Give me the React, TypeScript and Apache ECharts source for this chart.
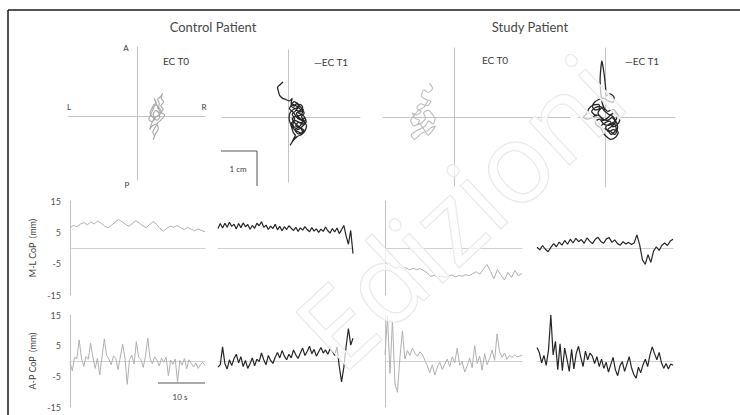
import React, { useEffect, useRef } from "react";
import * as echarts from "echarts";

// ---- Stabilograms: [M-L (mm), A-P (mm)] ----
const controlT0Path: number[][] = [
  [5.8, 2.1], [6.4, 3.5], [5.9, 4.8], [6.8, 5.6], [7.3, 6.5], [6.9, 5.1], [7.6, 4.0], [6.8, 2.9], [7.5, 1.8], [6.3, 0.9],
  [5.4, 1.6], [4.6, 0.4], [5.2, -0.8], [4.1, -1.6], [3.4, -0.9], [4.0, 0.6], [4.8, 2.4], [5.5, 3.9], [4.9, 5.0], [5.7, 3.1],
  [6.6, 1.2], [7.9, 0.3], [7.1, -0.9], [6.0, -1.9], [5.2, -3.2], [4.5, -4.6], [5.0, -5.8], [4.6, -6.8], [5.3, -5.1], [6.1, -3.6],
  [5.6, -2.3], [4.4, -2.8], [3.6, -3.9], [4.2, -2.1], [5.1, -0.4], [6.2, 0.2], [7.0, 1.1], [6.1, 2.6], [5.0, 3.4], [4.3, 2.2],
  [3.7, 1.0], [4.5, -0.3], [5.8, -1.2], [6.5, -0.2], [5.9, 1.5],
];
const controlT1Path: number[][] = [
  [-1.4, 10.0], [-2.2, 9.3], [-3.0, 8.4], [-2.7, 7.2], [-2.4, 6.2], [-1.6, 5.4], [-0.6, 5.0], [0.4, 4.6], [1.2, 5.3], [0.9, 3.8],
  [1.8, 3.1], [2.6, 4.0], [3.2, 3.0], [2.4, 2.1], [3.6, 1.5], [4.4, 2.3], [3.8, 0.6], [2.7, 0.2], [3.5, -0.8], [4.8, -0.3],
  [5.2, -1.4], [4.1, -2.0], [3.0, -1.5], [2.2, -2.6], [3.4, -3.1], [4.5, -3.8], [3.7, -4.6], [2.5, -4.0], [1.6, -3.3], [1.0, -1.8],
  [1.9, -0.6], [1.2, 0.8], [2.0, 1.6], [2.9, 2.7], [1.6, 2.2], [0.6, 1.2], [0.3, -0.4], [0.9, -2.5], [1.5, -4.4], [2.1, -5.3],
  [1.6, -6.2], [1.1, -7.3], [0.6, -8.1], [1.4, -6.8], [2.6, -5.6], [3.9, -5.0], [4.7, -4.2], [5.3, -2.6], [4.6, -1.2], [3.9, 0.1],
  [4.6, 1.1], [3.8, 2.6], [2.8, 3.6], [1.8, 4.4], [0.8, 3.2], [2.2, 2.4], [3.4, 3.6], [4.2, 2.8], [3.0, 1.2], [4.4, 0.4],
  [5.0, -0.8], [3.6, -1.6], [2.0, -1.0], [1.4, -2.2], [2.8, -3.6], [4.0, -2.8], [4.8, -1.8], [3.2, -0.2], [2.4, 1.0], [3.6, 2.0],
  [2.6, 3.0], [1.4, 3.6], [0.4, 2.4], [1.6, 1.2], [2.8, -0.4], [4.2, -1.2], [3.4, -2.6], [2.0, -3.8], [3.0, -4.8], [4.2, -4.6],
  [3.6, -3.2], [2.2, -2.0], [1.2, -0.6], [2.4, 0.4],
];
const studyT0Path: number[][] = [
  [-7.0, 9.6], [-6.1, 8.2], [-7.4, 7.0], [-8.6, 7.8], [-9.3, 6.1], [-8.0, 5.0], [-6.6, 4.4], [-7.8, 3.2], [-9.5, 3.8], [-10.6, 2.6],
  [-9.4, 1.5], [-10.8, 0.6], [-11.9, 1.2], [-11.1, -0.4], [-9.9, -0.9], [-10.4, -2.2], [-9.0, -1.5], [-8.1, -0.3], [-8.7, 1.2], [-7.3, 1.9],
  [-6.2, 0.8], [-5.4, -0.6], [-6.0, -2.0], [-7.2, -1.1], [-8.3, -2.6], [-9.6, -3.4], [-11.0, -4.1], [-12.2, -5.2], [-11.3, -6.4], [-10.2, -5.5],
  [-9.2, -4.6], [-7.6, -3.9], [-6.5, -3.0], [-5.3, -2.6], [-6.3, -4.1], [-7.4, -5.2], [-8.8, -3.2], [-10.0, -1.8], [-11.4, -2.6], [-12.4, -1.0],
  [-11.6, 0.2], [-10.2, 1.9], [-8.6, 2.8], [-7.5, 4.6],
];
const studyT1Path: number[][] = [
  [0.0, 2.0], [-0.8, 4.0], [-1.2, 7.0], [-1.4, 10.5], [-1.2, 13.8], [-0.9, 16.0], [-0.5, 14.0], [-0.1, 11.0], [0.2, 8.0], [0.3, 6.0],
  [1.4, 6.6], [2.6, 5.6], [2.2, 4.2], [0.9, 4.6], [-0.4, 5.4], [-1.8, 5.0], [-3.0, 4.2], [-3.6, 3.0], [-2.8, 2.0], [-1.6, 2.4],
  [-1.8, 3.6], [-3.4, 3.4], [-4.6, 2.4], [-5.2, 1.0], [-6.2, 0.0], [-5.0, -0.6], [-3.6, -0.2], [-2.6, 0.6], [-1.4, 0.2], [-0.6, -1.0],
  [0.6, -0.4], [1.6, 0.6], [2.8, 1.2], [3.4, 0.0], [2.6, -1.4], [1.2, -2.0], [0.2, -3.0], [1.0, -4.2], [2.4, -3.6], [3.8, -4.4],
  [3.0, -5.8], [1.6, -6.4], [0.4, -5.6], [-0.6, -4.4], [-1.2, -2.8], [-0.2, -1.8], [1.4, -1.2], [2.2, -2.8], [3.4, -2.2], [4.2, -1.0],
  [3.6, 0.8], [2.2, 2.2], [0.8, 1.6], [-0.6, 2.8], [-2.0, 1.2], [-1.0, -0.2], [0.6, -1.0], [2.0, -0.2], [3.0, -1.6], [2.0, -2.6],
  [0.8, -3.6], [1.8, -5.0], [3.2, -3.4], [2.6, -1.8], [1.0, -2.4], [-0.4, -2.0], [-1.6, -0.6], [-2.8, -1.4], [-1.8, -2.8], [-0.4, -3.4],
  [1.4, -4.0], [2.8, -5.0], [3.6, -3.0], [2.4, 0.0], [1.0, 0.8], [-0.2, 1.8], [-1.4, 3.0], [-2.6, 2.8], [-3.8, 1.6], [-2.4, 0.2],
];

// ---- CoP time series (mm), sampled evenly over the trial ----
const TRIAL_SECONDS = 30;
const controlT0ML = [6.5, 7.2, 6.8, 7.6, 8.1, 7.4, 8.3, 7.7, 8.6, 7.9, 7.0, 6.4, 7.3, 8.2, 9.1, 8.4, 7.6, 6.9, 7.8, 8.7, 8.0, 7.1, 6.5, 7.5, 8.4, 7.6, 6.2, 5.4, 6.3, 7.0, 6.6, 7.2, 6.4, 5.9, 6.6, 6.0, 5.5, 6.1, 5.6, 5.2];
const controlT1ML = [6.2, 7.8, 6.4, 7.9, 6.6, 8.2, 6.9, 7.6, 6.1, 7.8, 6.5, 8.0, 6.8, 7.5, 6.0, 7.2, 6.3, 7.9, 7.1, 8.4, 6.6, 7.3, 5.9, 7.0, 6.2, 7.6, 5.8, 6.9, 5.5, 6.8, 5.9, 7.1, 6.3, 5.6, 6.6, 5.3, 6.4, 5.7, 6.8, 5.9, 5.2, 6.5, 5.4, 6.1, 5.0, 6.0, 5.3, 6.7, 5.5, 4.8, 6.2, 5.1, 6.4, 4.6, 5.8, 7.2, 3.8, 1.2, 5.6, -1.8];
const studyT0ML = [-5.5, -4.6, -5.8, -6.4, -5.9, -6.6, -6.3, -7.0, -6.5, -6.9, -6.6, -7.2, -7.9, -9.1, -8.7, -9.3, -8.9, -9.4, -9.0, -8.6, -9.2, -8.8, -9.0, -8.5, -8.8, -8.2, -7.6, -8.4, -6.8, -5.2, -7.4, -9.8, -6.9, -8.6, -10.2, -7.8, -9.4, -7.2, -8.9, -8.1];
const studyT1ML = [0.3, -0.6, 0.8, -0.4, -1.2, 0.2, 1.4, 0.4, 1.9, 0.9, 2.4, 1.2, 2.8, 1.6, 3.1, 2.0, 2.7, 1.5, 3.2, 2.2, 1.4, 2.8, 3.4, 2.1, 1.5, 2.9, 3.3, 1.8, 2.6, 1.4, 0.9, 2.0, 1.3, 1.8, 1.1, 1.6, 4.2, 1.0, -3.8, -5.2, -2.1, -4.6, -1.0, 0.4, -0.8, 0.9, 1.6, 0.8, 2.2, 2.8];
const controlT0AP = [-0.5, -3.2, 1.2, 0.8, 6.9, 1.0, -1.8, 1.5, 0.6, 5.8, 1.2, -2.4, 0.9, -4.6, 1.4, 7.2, 1.8, 0.6, -1.2, 1.6, 0.9, -2.8, 1.3, 5.5, 1.1, -7.6, 0.4, 1.9, -1.0, 6.3, 1.2, 0.5, -2.1, 1.6, 7.4, 0.8, -0.9, 1.4, 0.2, -1.6, 0.9, -0.4, 1.2, -4.8, 0.3, -1.1, 0.6, -6.9, 0.2, -1.4, 0.8, -2.5, 0.4, -0.8, -1.9, -0.6, -2.4, -1.2, -0.4, -1.5];
const controlT1AP = [-2.0, -1.2, 4.6, -0.8, -2.6, 0.4, -1.5, 0.8, 2.2, -0.6, 1.4, -1.8, 0.2, -2.4, -0.9, 1.0, -1.6, 0.6, -0.2, 2.6, 0.4, -1.2, 1.8, 0.2, -0.8, 1.2, 2.8, 1.0, 3.4, 1.6, 0.4, 2.2, 1.0, 3.6, 2.0, 0.8, 2.6, 4.2, 1.8, 3.2, 4.8, 2.4, 3.8, 1.6, 3.0, 4.4, 2.6, 3.6, 2.2, 4.0, 3.2, 1.8, 4.6, -1.8, -6.8, -2.0, 4.8, 10.6, 5.2, 7.4];
const studyT0AP = [2.0, 14.6, -4.0, 13.2, -7.5, -10.2, 1.2, 9.8, 0.6, 3.4, 1.8, 4.2, 2.6, 1.5, 3.0, 2.2, 0.2, -1.6, -3.8, -1.2, -4.6, -2.0, -0.4, -2.8, -1.0, 0.6, -1.8, 1.4, -0.6, 4.2, -1.4, -0.2, -3.6, -1.6, 1.0, -2.2, 5.0, -0.8, 1.6, -3.0, 2.4, -1.2, 0.8, 3.6, 0.2, 8.8, 3.0, 1.2, 2.6, 0.6, 1.8, 1.2, 2.0, 1.4, 1.6, 1.8];
const studyT1AP = [4.4, 2.8, -0.6, 1.8, -1.4, 3.6, 15.0, 2.0, 6.4, -2.8, 5.6, -3.2, 4.2, 0.6, -3.4, 3.8, -2.6, 2.4, 4.8, 1.2, -1.8, 3.2, 0.4, 2.6, 1.6, -0.8, 1.4, -1.8, 0.6, -2.4, -0.4, -3.6, -1.2, 1.2, -2.8, -4.8, -1.6, -0.2, -3.4, -1.0, 1.4, -2.2, -4.4, -5.6, -2.0, -3.8, -1.2, 0.6, -1.8, 2.0, 4.6, 2.4, 0.4, 2.8, -0.6, -2.4, -0.8, -2.6, -1.0, -1.4];

const copTicks = [-15, -5, 5, 15];
const titles = ["Control Patient", "Study Patient"];
const FONT = "Lato, 'Open Sans', sans-serif";
const GRAY_TRACE = "#b0b0b0";
const DARK_TRACE = "#262626";
const AXIS_GRAY = "#c4c4c4";

export default function App() {
  const ref = useRef<HTMLDivElement>(null);
  useEffect(() => {
    if (!ref.current) return;
    const chart = echarts.init(ref.current, null, { renderer: "svg" });

    const S = 3.5; // px per mm in stabilograms
    const stabLayout = [
      { x0: 68, x1: 205, y0: 47, y1: 180, cx: 137, cy: 116 },
      { x0: 222, x1: 360, y0: 50, y1: 182, cx: 288, cy: 117 },
      { x0: 383, x1: 570, y0: 48, y1: 186, cx: 454, cy: 117 },
      { x0: 578, x1: 675, y0: 48, y1: 187, cx: 605, cy: 117 },
    ];
    const stabPaths = [controlT0Path, controlT1Path, studyT0Path, studyT1Path];
    const stabColors = ["#a8a8a8", DARK_TRACE, "#bcbcbc", DARK_TRACE];

    const grids: any[] = [];
    const xAxes: any[] = [];
    const yAxes: any[] = [];
    const series: any[] = [];

    const hiddenBits = {
      axisTick: { show: false },
      axisLabel: { show: false },
      splitLine: { show: false },
    };

    stabLayout.forEach((L, i) => {
      grids.push({ left: L.x0, top: L.y0, width: L.x1 - L.x0, height: L.y1 - L.y0 });
      xAxes.push({
        type: "value", gridIndex: i,
        min: (L.x0 - L.cx) / S, max: (L.x1 - L.cx) / S,
        axisLine: { show: true, onZero: true, lineStyle: { color: AXIS_GRAY, width: 1 } },
        ...hiddenBits,
      });
      yAxes.push({
        type: "value", gridIndex: i,
        min: -(L.y1 - L.cy) / S, max: (L.cy - L.y0) / S,
        axisLine: { show: true, onZero: true, lineStyle: { color: AXIS_GRAY, width: 1 } },
        ...hiddenBits,
      });
      series.push({
        type: "line", xAxisIndex: i, yAxisIndex: i, data: stabPaths[i],
        showSymbol: false, symbol: "none", smooth: 0.25,
        lineStyle: { color: stabColors[i], width: i % 2 ? 1.3 : 1.1 },
      });
    });

    const cols = [
      { left: 70, width: 135 },
      { left: 218, width: 135 },
      { left: 385, width: 137 },
      { left: 537, width: 136 },
    ];
    const rows = [
      { top: 201, height: 94, name: "M-L CoP  (mm)", data: [controlT0ML, controlT1ML, studyT0ML, studyT1ML] },
      { top: 315, height: 92, name: "A-P CoP  (mm)", data: [controlT0AP, controlT1AP, studyT0AP, studyT1AP] },
    ];

    rows.forEach((R) => {
      cols.forEach((C, ci) => {
        const gi = grids.length;
        grids.push({ left: C.left, top: R.top, width: C.width, height: R.height });
        xAxes.push({
          type: "value", gridIndex: gi, min: 0, max: TRIAL_SECONDS,
          axisLine: { show: true, onZero: true, lineStyle: { color: "#d0d0d0", width: 1 } },
          ...hiddenBits,
        });
        const labelled = ci === 0;
        yAxes.push({
          type: "value", gridIndex: gi, min: -15, max: 15, interval: 5,
          name: labelled ? R.name : "",
          nameLocation: "middle", nameGap: 33,
          nameTextStyle: { fontSize: 9, color: "#444", fontFamily: FONT },
          axisLine: { show: ci === 0 || ci === 2, onZero: false, lineStyle: { color: AXIS_GRAY, width: 1 } },
          axisTick: { show: false },
          splitLine: { show: false },
          axisLabel: {
            show: labelled, fontSize: 9, color: "#555", fontFamily: FONT, margin: 9,
            formatter: (v: number) => (copTicks.includes(v) ? String(v) : ""),
          },
        });
        const vals = R.data[ci];
        series.push({
          type: "line", xAxisIndex: gi, yAxisIndex: gi,
          data: vals.map((v, k) => [(k * TRIAL_SECONDS) / (vals.length - 1), v]),
          showSymbol: false, symbol: "none",
          lineStyle: { color: ci % 2 ? DARK_TRACE : GRAY_TRACE, width: ci % 2 ? 1.2 : 1 },
        });
      });
    });

    const txt = (x: number, y: number, text: string, fontSize: number, extra: any = {}) => ({
      type: "text", x, y, z: 10,
      style: { text, fontSize, fill: "#3c3c3c", fontFamily: FONT, align: "center", verticalAlign: "middle", ...extra },
    });

    const graphic: any[] = [
      // figure frame
      { type: "line", shape: { x1: 8, y1: 10, x2: 740, y2: 10 }, style: { stroke: "#1a1a1a", lineWidth: 1.5 } },
      { type: "line", shape: { x1: 8, y1: 10, x2: 8, y2: 415 }, style: { stroke: "#1a1a1a", lineWidth: 1.5 } },
      txt(213, 27, titles[0], 13, { fill: "#474747" }),
      txt(530, 27, titles[1], 13, { fill: "#474747" }),
      txt(126, 48, "A", 8),
      txt(127, 185, "P", 8),
      txt(69, 107, "L", 8),
      txt(204, 107, "R", 8),
      txt(176, 61, "EC T0", 10),
      txt(495, 60, "EC T0", 10),
      txt(331, 62, "—EC T1", 10),
      txt(642, 61, "—EC T1", 10),
      // 1 cm scale bracket
      { type: "polyline", shape: { points: [[221, 151], [257, 151], [257, 186]] }, style: { stroke: "#555", lineWidth: 1, fill: null } },
      txt(238, 169, "1 cm", 8),
      // 10 s scale bar
      { type: "line", shape: { x1: 158, y1: 383, x2: 205, y2: 383 }, style: { stroke: "#555", lineWidth: 1 } },
      txt(180, 397, "10 s", 8),
      // watermark
      {
        type: "text", x: 458, y: 210, rotation: 0.75, z: 50,
        style: {
          text: "Edizioni", fontSize: 110, fontFamily: "'Open Sans', sans-serif",
          fill: "rgba(255,255,255,0.7)", stroke: "#e4e4e4", lineWidth: 1.5,
          align: "center", verticalAlign: "middle",
        },
      },
    ];

    chart.setOption({
      animation: false,
      backgroundColor: "#ffffff",
      grid: grids,
      xAxis: xAxes,
      yAxis: yAxes,
      series,
      graphic,
    });
    return () => chart.dispose();
  }, []);
  return <div ref={ref} style={{ position: "fixed", left: 0, top: 0, width: 740, height: 415 }} />;
}
